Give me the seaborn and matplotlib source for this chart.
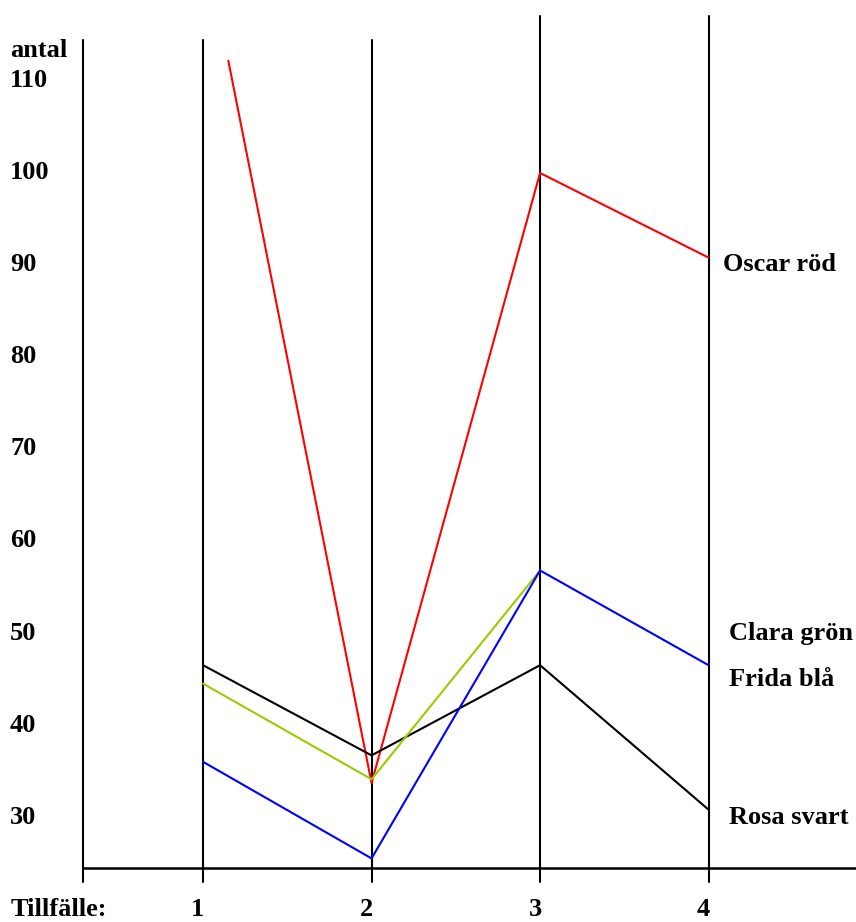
import pandas as pd
import matplotlib.pyplot as plt
import seaborn as sns

# data
tillfallen = [1, 2, 3, 4]
oscar_x = [1.15, 2, 3, 4]
oscar_rod = [112.2, 33.7, 100.0, 90.8]
rosa_x = [1, 2, 3, 4]
rosa_svart = [46.5, 36.7, 46.5, 30.8]
clara_x = [1, 2, 3]
clara_gron = [44.5, 34.1, 56.8]
frida_x = [1, 2, 3, 4]
frida_bla = [36.0, 25.5, 56.8, 46.5]

namn = ["Oscar röd", "Rosa svart", "Clara grön", "Frida blå"]
farger = {"Oscar röd": "#ff0000", "Rosa svart": "#000000",
          "Clara grön": "#99cc00", "Frida blå": "#0000ff"}
etikett_y = {"Oscar röd": 90, "Clara grön": 50, "Frida blå": 45, "Rosa svart": 30}
y_ticks = [30, 40, 50, 60, 70, 80, 90, 100, 110]

# bygg lång tabell
rows = []
for n, xs, ys in [("Oscar röd", oscar_x, oscar_rod), ("Rosa svart", rosa_x, rosa_svart),
                  ("Clara grön", clara_x, clara_gron), ("Frida blå", frida_x, frida_bla)]:
    for x, y in zip(xs, ys):
        rows.append({"tillfalle": x, "antal": y, "namn": n})
df = pd.DataFrame(rows)

sns.set_style("white")
plt.rcParams['font.family'] = ['Liberation Serif', 'DejaVu Serif']
plt.rcParams['text.color'] = 'black'

fig = plt.figure(figsize=(8.56, 9.22), dpi=100)
ax = fig.add_axes([0, 0, 1, 1])
ax.set_xlim(-0.205, 4.875)
ax.set_ylim(18.59, 118.8)
ax.axis("off")

x_axel = 0.29
y_axel = 24.46

# axlar och vertikala linjer
ax.plot([x_axel, 4.875], [y_axel, y_axel], color="black", lw=1.8, zorder=1)
ax.plot([x_axel, x_axel], [22.9, 114.4], color="black", lw=1.5, zorder=1)
for t in tillfallen:
    top = 114.4 if t <= 2 else 117.1
    ax.plot([t, t], [22.9, top], color="black", lw=1.5, zorder=1)

sns.lineplot(data=df, x="tillfalle", y="antal", hue="namn", palette=farger,
             units="namn", estimator=None, sort=False, lw=1.5, legend=False,
             ax=ax, zorder=3)

fs = 19
for v in y_ticks:
    ax.text(-0.145, v, str(v), ha="left", va="center", fontsize=fs, fontweight="bold",
            color="black")
ax.text(-0.145, 113.3, "antal", ha="left", va="center", fontsize=fs, fontweight="bold",
        color="black")

ax.text(-0.145, 19.9, "Tillfälle:", ha="left", va="center", fontsize=fs, fontweight="bold",
        color="black")
for t in tillfallen:
    ax.text(t - 0.03, 19.9, str(t), ha="center", va="center", fontsize=fs, fontweight="bold",
            color="black")

for n in namn:
    x0 = 4.083 if n == "Oscar röd" else 4.12
    ax.text(x0, etikett_y[n], n, ha="left", va="center", fontsize=fs, fontweight="bold",
            color="black")

fig.savefig("out.png", dpi=100)
